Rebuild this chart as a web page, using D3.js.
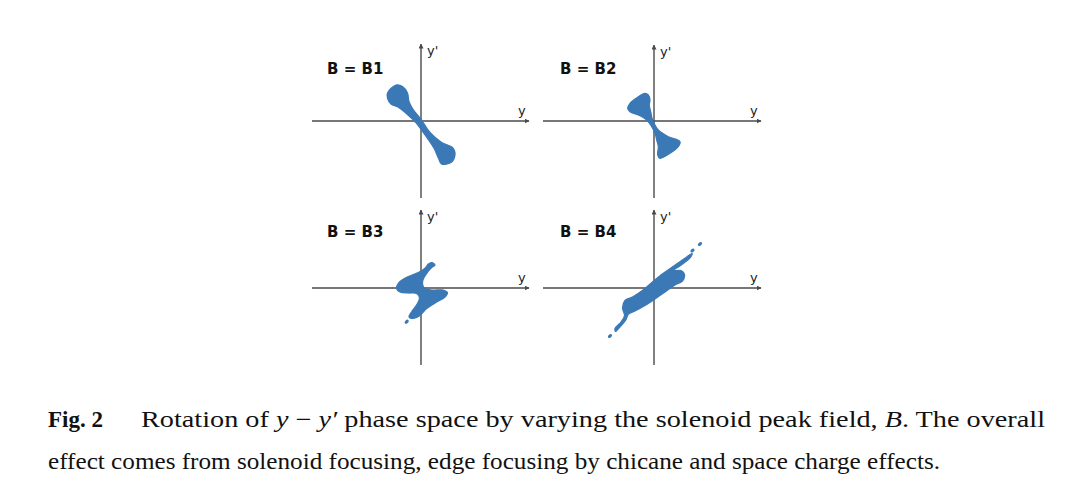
<!DOCTYPE html>
<html>
<head>
<meta charset="utf-8">
<script src="https://cdn.jsdelivr.net/npm/d3@7"></script>
<style>
  html, body { margin: 0; padding: 0; background: #fff; }
  svg { display: block; }
</style>
</head>
<body>
<svg id="chart" width="1080" height="504"></svg>
<script>
// ---------------- DATA (phase-space units: y, y') ----------------
const panelLabels = ["B = B1", "B = B2", "B = B3", "B = B4"];
const axisLabelX = "y";
const axisLabelY = "y'";

// outlines of the beam distributions
const outlineB1 = [
  [-3.35, 2.8], [-2.5, 3.6], [-1.85, 3.45], [-1.35, 2.8], [-1.2, 1.95], [-0.85, 1.25],
  [0.05, 0.1], [0.9, -1.15], [2.07, -2.15], [3.15, -2.65], [3.4, -3.4], [3.0, -4.15],
  [2.05, -4.3], [1.75, -3.73], [1.3, -2.73], [0.65, -1.73], [0.05, -0.9], [-0.45, -0.23],
  [-1.3, 0.6], [-2.3, 1.4], [-3.0, 1.7], [-3.35, 2.27]
];
const outlineB2 = [
  [-2.63, 1.27], [-2.4, 1.77], [-1.57, 2.43], [-0.9, 2.77], [-0.57, 2.6], [-0.4, 2.1],
  [-0.47, 1.6], [-0.33, 0.93], [-0.17, 0.17], [0.1, -0.4], [0.43, -0.9], [1.43, -1.57],
  [2.6, -2.07], [2.43, -2.57], [1.6, -3.23], [0.6, -3.73], [0.37, -3.4], [0.43, -2.57],
  [0.27, -1.9], [0.1, -1.23], [-0.23, -0.57], [-0.73, 0.1], [-1.57, 0.6], [-2.4, 0.93]
];
const outlineB3 = [
  [-2.45, -0.03], [-2.1, 0.65], [-1.27, 1.15], [-0.27, 1.55], [0.4, 1.97], [0.73, 2.4],
  [1.07, 2.55], [1.4, 2.3], [1.07, 2.05], [0.67, 1.6], [0.25, 0.95], [0.15, 0.45],
  [0.35, -0.03], [1.07, -0.2], [2.23, -0.2], [2.65, -0.47], [2.4, -0.9], [1.57, -1.4],
  [0.57, -2.05], [-0.1, -2.75], [-0.77, -3.05], [-1.2, -2.9], [-0.93, -2.37], [-0.45, -1.7],
  [-0.15, -1.03], [-0.43, -0.55], [-1.27, -0.5], [-2.1, -0.4]
];
const outlineB4 = [
  [-3.9, -4.05], [-3.3, -3.4], [-2.95, -2.75], [-3.15, -2.0], [-2.9, -1.25], [-2.15, -0.9],
  [-1.1, -0.2], [-0.1, 0.65], [0.9, 1.45], [2.05, 2.25], [3.05, 2.95], [3.8, 3.45],
  [3.65, 3.05], [2.65, 2.25], [1.95, 1.75], [2.7, 1.75], [3.05, 1.35], [2.85, 0.7],
  [2.1, 0.3], [1.1, -0.4], [0.1, -1.1], [-0.9, -1.75], [-1.9, -2.3], [-2.55, -2.6],
  [-2.85, -3.25], [-3.45, -3.95], [-3.85, -4.35]
];
// isolated macro-particles
const dotsB1 = [];
const dotsB2 = [];
const dotsB3 = [[-1.43, -3.37]];
const dotsB4 = [[-4.4, -4.8], [3.85, 3.75], [4.6, 4.4]];

const outlines = [outlineB1, outlineB2, outlineB3, outlineB4];
const dots = [dotsB1, dotsB2, dotsB3, dotsB4];

const captionFig = "Fig. 2";

// ---------------- LAYOUT ----------------
const svg = d3.select("#chart");
const blue = "#3b79b6";
const axisColor = "#4a4a4a";
const pxPerUnit = 10;
const origins = [[421, 121], [654, 121], [421, 288], [654, 288]];
const hExtent = [[-10.9, 10.8], [-11.1, 10.7], [-10.9, 10.8], [-11.1, 10.7]];
const vExtent = [[-7.7, 7.7], [-7.7, 7.6], [-7.7, 7.8], [-7.7, 7.8]];

const defs = svg.append("defs");
defs.append("marker")
  .attr("id", "arrow")
  .attr("viewBox", "0 0 10 10")
  .attr("refX", 9).attr("refY", 5)
  .attr("markerWidth", 5).attr("markerHeight", 5)
  .attr("markerUnits", "userSpaceOnUse")
  .attr("orient", "auto")
  .append("path").attr("d", "M0,0 L10,5 L0,10 z").attr("fill", axisColor);

origins.forEach(([ox, oy], i) => {
  const x = d3.scaleLinear().domain([-10, 10]).range([ox - 10 * pxPerUnit, ox + 10 * pxPerUnit]);
  const y = d3.scaleLinear().domain([-10, 10]).range([oy + 10 * pxPerUnit, oy - 10 * pxPerUnit]);
  const g = svg.append("g");

  // axes
  g.append("line")
    .attr("x1", x(hExtent[i][0])).attr("x2", x(hExtent[i][1]))
    .attr("y1", y(0)).attr("y2", y(0))
    .attr("stroke", axisColor).attr("stroke-width", 1.4)
    .attr("marker-end", "url(#arrow)");
  g.append("line")
    .attr("x1", x(0)).attr("x2", x(0))
    .attr("y1", y(vExtent[i][0])).attr("y2", y(vExtent[i][1]))
    .attr("stroke", axisColor).attr("stroke-width", 1.4)
    .attr("marker-end", "url(#arrow)");

  // beam distribution
  const line = d3.line().x(d => x(d[0])).y(d => y(d[1])).curve(d3.curveCatmullRomClosed.alpha(0.5));
  g.append("path")
    .attr("d", line(outlines[i]))
    .attr("fill", blue)
    .attr("stroke", blue).attr("stroke-width", 1.2).attr("stroke-linejoin", "round");
  g.selectAll("ellipse.dot").data(dots[i]).enter().append("ellipse")
    .attr("class", "dot")
    .attr("cx", d => x(d[0])).attr("cy", d => y(d[1]))
    .attr("rx", 2.4).attr("ry", 1.6)
    .attr("transform", d => `rotate(-40 ${x(d[0])} ${y(d[1])})`)
    .attr("fill", blue);

  // labels
  g.append("text")
    .attr("x", x(0) + 6).attr("y", y(vExtent[i][1]) + 11)
    .attr("font-family", "DejaVu Sans, sans-serif").attr("font-size", 13)
    .attr("fill", "#222")
    .text(axisLabelY);
  g.append("text")
    .attr("x", x(hExtent[i][1]) - 11).attr("y", y(0) - 6)
    .attr("font-family", "DejaVu Sans, sans-serif").attr("font-size", 13)
    .attr("fill", "#222")
    .text(axisLabelX);
  g.append("text")
    .attr("x", x(0) - 94).attr("y", y(0) - (i < 2 ? 47 : 51))
    .attr("font-family", "DejaVu Sans, sans-serif").attr("font-weight", "bold").attr("font-size", 15)
    .attr("fill", "#111")
    .text(panelLabels[i]);
});

// ---------------- CAPTION ----------------
const serif = "Liberation Serif";
const cap = svg.append("g").attr("fill", "#111");
cap.append("text").attr("x", 48).attr("y", 427)
  .attr("font-family", serif).attr("font-size", 23).attr("font-weight", "bold")
  .attr("textLength", 55).attr("lengthAdjust", "spacingAndGlyphs")
  .text(captionFig);
const l1 = cap.append("text").attr("x", 141).attr("y", 427)
  .attr("font-family", serif).attr("font-size", 23)
  .attr("textLength", 904).attr("lengthAdjust", "spacingAndGlyphs");
l1.append("tspan").text("Rotation of ");
l1.append("tspan").attr("font-style", "italic").text("y");
l1.append("tspan").text(" \u2212 ");
l1.append("tspan").attr("font-style", "italic").text("y\u2032");
l1.append("tspan").text(" phase space by varying the solenoid peak field, ");
l1.append("tspan").attr("font-style", "italic").text("B");
l1.append("tspan").text(". The overall");
cap.append("text").attr("x", 48).attr("y", 469)
  .attr("font-family", serif).attr("font-size", 23)
  .attr("textLength", 892).attr("lengthAdjust", "spacingAndGlyphs")
  .text("effect comes from solenoid focusing, edge focusing by chicane and space charge effects.");
</script>
</body>
</html>
